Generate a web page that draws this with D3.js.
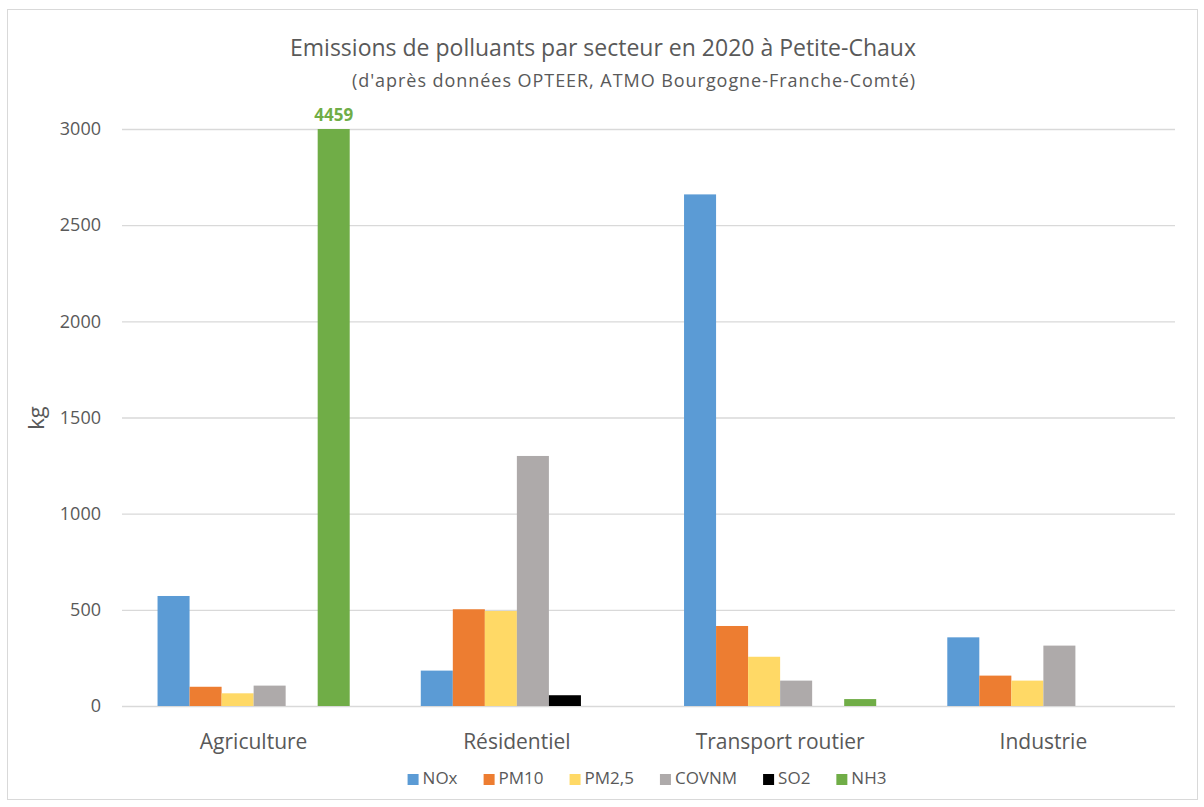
<!DOCTYPE html>
<html>
  <head>
    <meta charset="utf-8">
    <title>Emissions de polluants</title>
    <script src="https://cdn.jsdelivr.net/npm/d3@7"></script>
    <style>
      body { margin: 0; background: #fff; font-family: "Open Sans", "Noto Sans", sans-serif; }
      .grid path { display: none; }
    </style>
  </head>
  <body>
    <script>
// data
var sectors = ["Agriculture", "Résidentiel", "Transport routier", "Industrie"];
var pollutants = ["NOx", "PM10", "PM2,5", "COVNM", "SO2", "NH3"];
var colors = ["#5b9bd5", "#ed7d31", "#ffd966", "#aeaaaa", "#000000", "#70ad47"];
var NOx   = [572, 184, 2660, 357];
var PM10  = [100, 503, 416, 158];
var PM25  = [66, 494, 256, 132];
var COVNM = [106, 1300, 132, 314];
var SO2   = [0, 56, 0, 0];
var NH3   = [4459, 0, 36, 0];
var yTicks = [0, 500, 1000, 1500, 2000, 2500, 3000];

var series = [NOx, PM10, PM25, COVNM, SO2, NH3];

var W = 1204, H = 807;
var svg = d3.select("body").append("svg")
  .attr("width", W).attr("height", H);

// frame
svg.append("rect")
  .attr("x", 7.5).attr("y", 9.5).attr("width", 1190).attr("height", 790)
  .attr("fill", "#fff").attr("stroke", "#d9d9d9");

var pLeft = 122, pRight = 1175, pTop = 129, pBottom = 706;

var x0 = d3.scaleBand().domain(sectors).range([pLeft, pRight]).paddingInner(0.27).paddingOuter(0.135);
var x1 = d3.scaleBand().domain(d3.range(pollutants.length)).range([0, x0.bandwidth()]);
var y = d3.scaleLinear().domain([0, 3000]).range([pBottom, pTop]).clamp(true);

// grid
svg.append("g").attr("class", "grid")
  .attr("transform", "translate(" + pLeft + ",0)")
  .call(d3.axisLeft(y).tickValues(yTicks).tickSize(-(pRight - pLeft)).tickFormat(""))
  .call(function(g) { g.selectAll(".tick line").attr("stroke", "#d9d9d9").attr("stroke-width", 1.3); });

// y labels
svg.append("g")
  .selectAll("text").data(yTicks).enter().append("text")
  .attr("x", 101).attr("y", function(d) { return y(d); })
  .attr("dy", "0.35em").attr("text-anchor", "end")
  .attr("font-size", 18).attr("fill", "#595959")
  .text(function(d) { return d; });

// bars
var groups = svg.append("g").selectAll("g").data(sectors).enter().append("g")
  .attr("transform", function(d) { return "translate(" + x0(d) + ",0)"; });

groups.selectAll("rect")
  .data(function(d, i) { return series.map(function(s, k) { return { k: k, v: s[i] }; }); })
  .enter().append("rect")
  .attr("x", function(d) { return x1(d.k); })
  .attr("width", x1.bandwidth())
  .attr("y", function(d) { return y(d.v); })
  .attr("height", function(d) { return y(0) - y(d.v); })
  .attr("fill", function(d) { return colors[d.k]; });

// label for the clipped NH3 bar
svg.append("text")
  .attr("x", x0(sectors[0]) + x1(5) + x1.bandwidth() / 2)
  .attr("y", y(3000) - 8)
  .attr("text-anchor", "middle")
  .attr("font-size", 17).attr("font-weight", "bold").attr("fill", "#70ad47")
  .text(NH3[0]);

// category labels
svg.append("g").selectAll("text").data(sectors).enter().append("text")
  .attr("x", function(d) { return x0(d) + x0.bandwidth() / 2; })
  .attr("y", 749).attr("text-anchor", "middle")
  .attr("font-size", 21).attr("fill", "#595959")
  .text(function(d) { return d; });

// axis title
svg.append("text")
  .attr("transform", "translate(44,418) rotate(-90)")
  .attr("text-anchor", "middle")
  .attr("font-size", 22).attr("fill", "#595959")
  .text("kg");

// titles
svg.append("text")
  .attr("x", 603).attr("y", 56).attr("text-anchor", "middle")
  .attr("font-size", 23).attr("fill", "#595959")
  .text("Emissions de polluants par secteur en 2020 à Petite-Chaux");
svg.append("text")
  .attr("x", 352).attr("y", 87)
  .attr("font-size", 18).attr("letter-spacing", 0.95).attr("fill", "#595959")
  .text("(d'après données  OPTEER, ATMO Bourgogne-Franche-Comté)");

// legend
var leg = svg.append("g");
var items = leg.selectAll("g").data(pollutants).enter().append("g");
items.append("rect").attr("width", 11).attr("height", 11).attr("y", -10)
  .attr("fill", function(d, i) { return colors[i]; });
items.append("text").attr("x", 15).attr("font-size", 17).attr("fill", "#595959")
  .text(function(d) { return d; });
var gap = 26, xpos = 0;
items.each(function() {
  var w = this.getBBox().width;
  d3.select(this).attr("transform", "translate(" + xpos + ",0)");
  xpos += w + gap;
});
xpos -= gap;
leg.attr("transform", "translate(" + (647 - xpos / 2) + ",784)");
    </script>
  </body>
</html>
